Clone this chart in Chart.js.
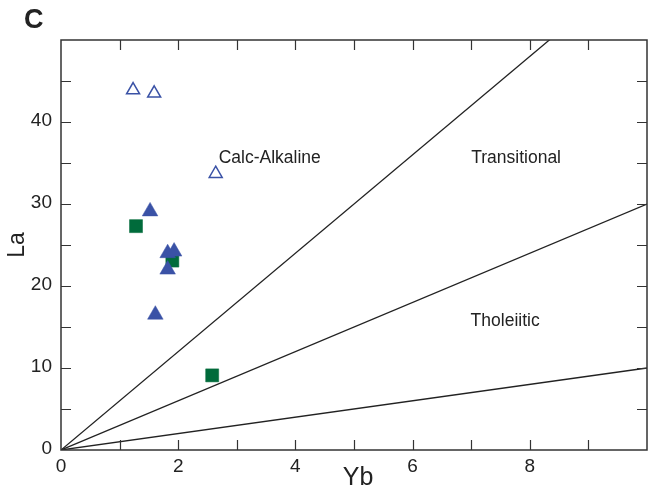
<!DOCTYPE html>
<html>
<head>
<meta charset="utf-8">
<script src="https://cdn.jsdelivr.net/npm/chart.js@4/dist/chart.umd.min.js"></script>
<style>
  html, body { margin: 0; padding: 0; background: #fff; overflow: hidden; }
  #wrap { width: 649px; height: 495px; }
  canvas { display: block; }
</style>
</head>
<body>
<div id="wrap"><canvas id="chart" width="649" height="495"></canvas></div>
<script>
// Yb vs La discrimination diagram (panel C)
const openTriYb = [1.23, 1.59, 2.64];
const openTriLa = [43.9, 43.5, 33.7];

const solidTriYb = [1.52, 1.82, 1.93, 1.82, 1.61];
const solidTriLa = [29.1, 24.0, 24.2, 22.0, 16.5];

const squareYb = [1.28, 1.90, 2.58];
const squareLa = [27.3, 23.1, 9.1];

// boundary lines through the origin, given by their end points
const lineCalcTrans = [[0, 0], [10, 60]];
const lineTransThol = [[0, 0], [10, 30]];
const lineThol = [[0, 0], [10, 10]];

const xTicks = [0, 2, 4, 6, 8];
const yTicks = [0, 10, 20, 30, 40];

const fieldLabels = ["Calc-Alkaline", "Transitional", "Tholeiitic"];
const fieldYb = [2.69, 7.0, 6.99];
const fieldLa = [35.6, 35.6, 15.7];

const toPts = (xs, ys) => xs.map((x, i) => ({ x: x, y: ys[i] }));
const toLine = (arr) => arr.map((p) => ({ x: p[0], y: p[1] }));

const blue = "#3a52a6";
const green = "#006b3b";
const FONT = "'Liberation Sans', Arial, sans-serif";

// inward tick marks on all four sides, plus text labels
const framePlugin = {
  id: "frame",
  afterDatasetsDraw(chart) {
    const ctx = chart.ctx;
    const a = chart.chartArea;
    const xs = chart.scales.x;
    const ys = chart.scales.y;
    ctx.save();
    ctx.strokeStyle = "#333";
    ctx.lineWidth = 1.5;
    ctx.strokeRect(a.left, a.top, a.right - a.left, a.bottom - a.top);
    ctx.lineWidth = 1.2;
    for (let v = 1; v < 10; v++) {
      const px = Math.round(xs.getPixelForValue(v)) + 0.5;
      ctx.beginPath();
      ctx.moveTo(px, a.bottom); ctx.lineTo(px, a.bottom - 10);
      ctx.moveTo(px, a.top); ctx.lineTo(px, a.top + 10);
      ctx.stroke();
    }
    for (let v = 5; v < 50; v += 5) {
      const py = Math.round(ys.getPixelForValue(v)) + 0.5;
      ctx.beginPath();
      ctx.moveTo(a.left, py); ctx.lineTo(a.left + 10, py);
      ctx.moveTo(a.right, py); ctx.lineTo(a.right - 10, py);
      ctx.stroke();
    }
    ctx.fillStyle = "#222";
    ctx.font = "17.5px " + FONT;
    ctx.textBaseline = "middle";
    ctx.textAlign = "left";
    fieldLabels.forEach((t, i) => {
      ctx.fillText(t, xs.getPixelForValue(fieldYb[i]), ys.getPixelForValue(fieldLa[i]));
    });
    ctx.font = "19px " + FONT;
    ctx.textAlign = "center";
    ctx.textBaseline = "top";
    xTicks.forEach((v) => {
      ctx.fillText(String(v), xs.getPixelForValue(v), a.bottom + 7);
    });
    ctx.textAlign = "right";
    ctx.textBaseline = "middle";
    yTicks.forEach((v) => {
      ctx.fillText(String(v), a.left - 9, ys.getPixelForValue(v) - 1);
    });
    ctx.font = "25px " + FONT;
    ctx.textAlign = "center";
    ctx.textBaseline = "middle";
    ctx.fillText("Yb", 358, 478);
    ctx.save();
    ctx.translate(18, 245);
    ctx.rotate(-Math.PI / 2);
    ctx.font = "23px " + FONT;
    ctx.fillText("La", 0, 0);
    ctx.restore();
    ctx.font = "bold 27px " + FONT;
    ctx.textAlign = "left";
    ctx.fillText("C", 24, 21);
    ctx.restore();
  },
};

const lineStyle = {
  type: "line",
  borderColor: "#222",
  borderWidth: 1.3,
  pointRadius: 0,
  fill: false,
  tension: 0,
};

new Chart(document.getElementById("chart"), {
  type: "scatter",
  data: {
    datasets: [
      Object.assign({ label: "CA-T", data: toLine(lineCalcTrans) }, lineStyle),
      Object.assign({ label: "T-Th", data: toLine(lineTransThol) }, lineStyle),
      Object.assign({ label: "Th", data: toLine(lineThol) }, lineStyle),
      {
        label: "open",
        data: toPts(openTriYb, openTriLa),
        pointStyle: "triangle",
        pointRadius: 7.5,
        backgroundColor: "#fff",
        borderColor: blue,
        borderWidth: 1.5,
      },
      {
        label: "solid",
        data: toPts(solidTriYb, solidTriLa),
        pointStyle: "triangle",
        pointRadius: 9,
        backgroundColor: blue,
        borderColor: blue,
        borderWidth: 0.5,
      },
      {
        label: "square",
        data: toPts(squareYb, squareLa),
        pointStyle: "rect",
        pointRadius: 9.2,
        backgroundColor: green,
        borderColor: green,
        borderWidth: 0.5,
      },
    ],
  },
  options: {
    responsive: false,
    animation: false,
    layout: { autoPadding: false, padding: { left: 0, top: 40, right: 2, bottom: 0 } },
    plugins: { legend: { display: false }, tooltip: { enabled: false } },
    scales: {
      x: {
        type: "linear",
        min: 0,
        max: 10,
        grid: { display: false },
        border: { display: false },
        ticks: { display: false },
        afterFit: (s) => { s.height = 45; s.paddingLeft = 0; s.paddingRight = 0; },
      },
      y: {
        type: "linear",
        min: 0,
        max: 50,
        grid: { display: false },
        border: { display: false },
        ticks: { display: false },
        afterFit: (s) => { s.width = 61; s.paddingTop = 0; s.paddingBottom = 0; },
      },
    },
  },
  plugins: [framePlugin],
});
</script>
</body>
</html>
